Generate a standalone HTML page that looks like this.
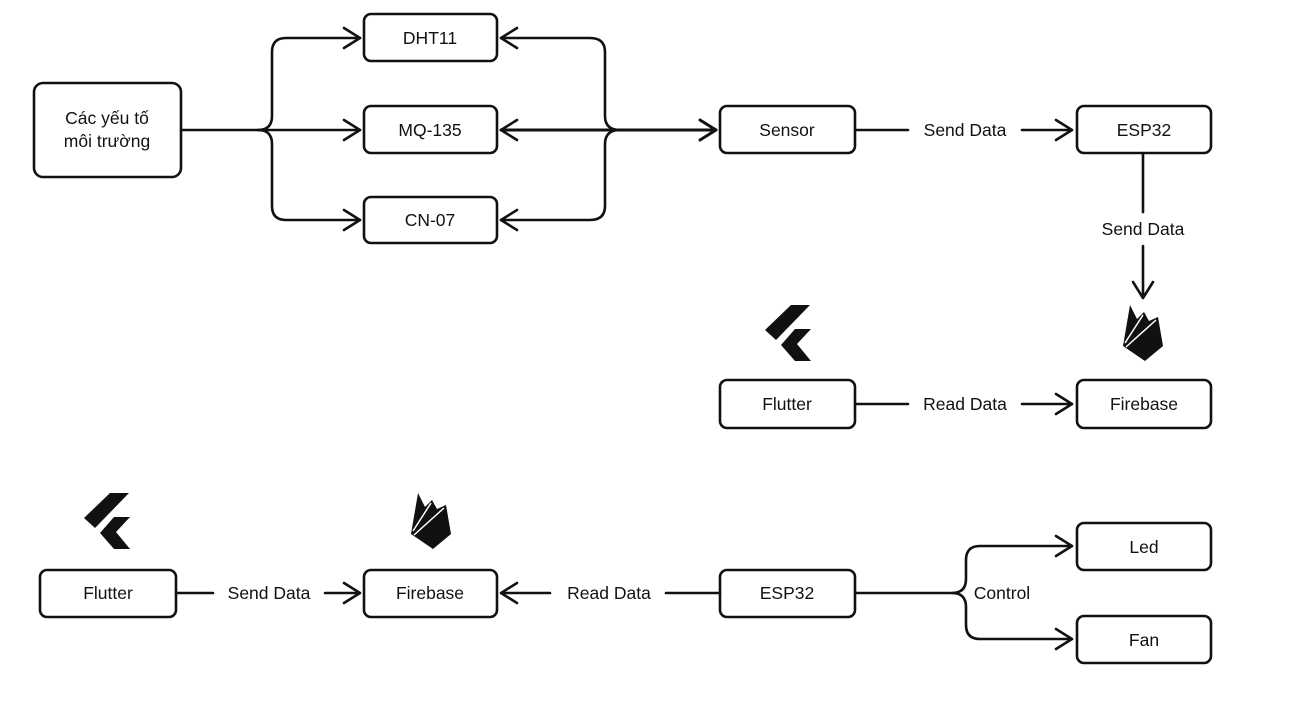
<!DOCTYPE html>
<html><head><meta charset="utf-8"><style>
html,body{margin:0;padding:0;background:#fff;}
svg{display:block;}
text{font-family:"Liberation Sans","Noto Sans CJK SC",sans-serif;font-size:17.5px;fill:#111;}
</style></head><body>
<svg width="1292" height="701" viewBox="0 0 1292 701" xmlns="http://www.w3.org/2000/svg">
<defs>
<g id="fl">
<path d="M110 493 L129 493 L95 528 L84 518 Z"/>
<path d="M114 517 L130 517 L116 532 L130 549 L114 549 L100 533 Z"/>
</g>
<g id="fb">
<path d="M411 534 L418 493 L425 507 L432 500 L437 509 L446 505 L451 534 L433 549 Z" fill="#111"/>
<path d="M413 531 L431 503 M414 535 L444 508" stroke="#fff" stroke-width="1.5" fill="none"/>
</g>
</defs>
<g fill="none" stroke="#111" stroke-width="2.6" stroke-linecap="round" stroke-linejoin="round">
<rect x="34" y="83" width="147" height="94" rx="9"/>
<rect x="364" y="14" width="133" height="47" rx="7"/>
<rect x="364" y="106" width="133" height="47" rx="7"/>
<rect x="364" y="197" width="133" height="46" rx="7"/>
<rect x="720" y="106" width="135" height="47" rx="7"/>
<rect x="1077" y="106" width="134" height="47" rx="7"/>
<rect x="720" y="380" width="135" height="48" rx="7"/>
<rect x="1077" y="380" width="134" height="48" rx="7"/>
<rect x="40" y="570" width="136" height="47" rx="7"/>
<rect x="364" y="570" width="133" height="47" rx="7"/>
<rect x="720" y="570" width="135" height="47" rx="7"/>
<rect x="1077" y="523" width="134" height="47" rx="7"/>
<rect x="1077" y="616" width="134" height="47" rx="7"/>
<path d="M181 130 H258 Q272 130 272 116 V52 Q272 38 286 38 H360"/>
<path d="M258 130 H360"/>
<path d="M258 130 Q272 130 272 144 V206 Q272 220 286 220 H360"/>
<path d="M344 28 L360 38 L344 48 M344 120 L360 130 L344 140 M344 210 L360 220 L344 230"/>
<path d="M501 38 H590 Q605 38 605 52 V116 Q605 130 620 130"/>
<path d="M501 130 H716" stroke-width="3"/>
<path d="M501 220 H590 Q605 220 605 206 V144 Q605 130 620 130"/>
<path d="M517 28 L501 38 L517 48 M517 120 L501 130 L517 140 M517 210 L501 220 L517 230"/>
<path d="M700 120 L716 130 L700 140" stroke-width="3"/>
<path d="M855 130 H908 M1022 130 H1072 M1056 120 L1072 130 L1056 140"/>
<path d="M1143 153 V212 M1143 246 V298 M1133 282 L1143 298 L1153 282"/>
<path d="M855 404 H908 M1022 404 H1072 M1056 394 L1072 404 L1056 414"/>
<path d="M176 593 H213 M325 593 H360 M344 583 L360 593 L344 603"/>
<path d="M501 593 H550 M666 593 H720 M517 583 L501 593 L517 603"/>
<path d="M855 593 H952 Q966 593 966 579 V560 Q966 546 980 546 H1072 M1056 536 L1072 546 L1056 556"/>
<path d="M952 593 Q966 593 966 607 V625 Q966 639 980 639 H1072 M1056 629 L1072 639 L1056 649"/>
</g>
<text x="107" y="124" text-anchor="middle">Các yếu tố</text>
<text x="107" y="147" text-anchor="middle">môi trường</text>
<text x="430" y="44" text-anchor="middle">DHT11</text>
<text x="430" y="136" text-anchor="middle">MQ-135</text>
<text x="430" y="226" text-anchor="middle">CN-07</text>
<text x="787" y="136" text-anchor="middle">Sensor</text>
<text x="1144" y="136" text-anchor="middle">ESP32</text>
<text x="965" y="136" text-anchor="middle">Send Data</text>
<text x="1143" y="235" text-anchor="middle">Send Data</text>
<text x="787" y="410" text-anchor="middle">Flutter</text>
<text x="1144" y="410" text-anchor="middle">Firebase</text>
<text x="965" y="410" text-anchor="middle">Read Data</text>
<text x="108" y="599" text-anchor="middle">Flutter</text>
<text x="430" y="599" text-anchor="middle">Firebase</text>
<text x="787" y="599" text-anchor="middle">ESP32</text>
<text x="269" y="599" text-anchor="middle">Send Data</text>
<text x="609" y="599" text-anchor="middle">Read Data</text>
<text x="1002" y="599" text-anchor="middle">Control</text>
<text x="1144" y="553" text-anchor="middle">Led</text>
<text x="1144" y="646" text-anchor="middle">Fan</text>
<g fill="#111">
<use href="#fl"/>
<use href="#fl" transform="translate(681,-188)"/>
</g>
<use href="#fb"/>
<use href="#fb" transform="translate(712,-188)"/>
</svg>
</body></html>
